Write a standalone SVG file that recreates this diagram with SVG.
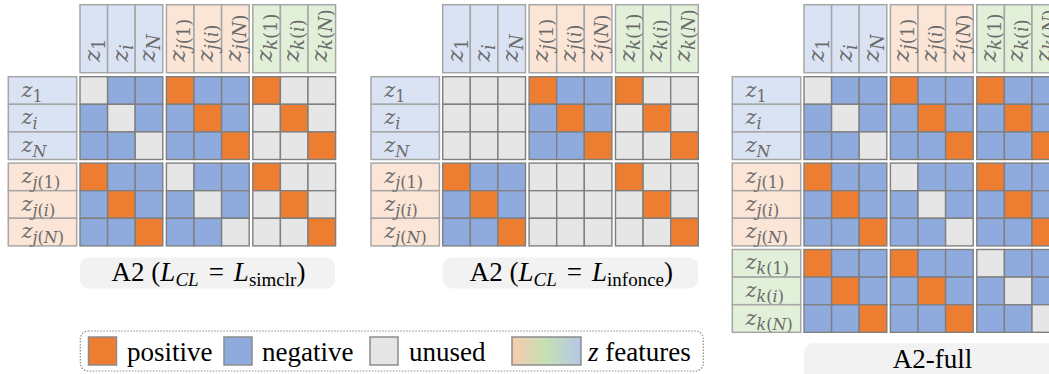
<svg xmlns="http://www.w3.org/2000/svg" xmlns:xlink="http://www.w3.org/1999/xlink" width="1049" height="374" viewBox="0 0 1049 374">
<style>
.o{fill:#ED7D31}.b{fill:#8FAADC}.g{fill:#E6E6E6}
.cell rect{stroke:#7F7F7F;stroke-width:1.4}
.hb{fill:#DAE3F3;stroke:#A6A6A6;stroke-width:1.5}
.hj{fill:#FBE5D6;stroke:#A6A6A6;stroke-width:1.5}
.hk{fill:#E2F0D9;stroke:#A6A6A6;stroke-width:1.5}
.rl{font-family:"DejaVu Serif",serif;font-style:italic;font-size:21px;fill:#6B6B6B}
.hl{font-family:"DejaVu Serif",serif;font-style:italic;font-size:23px;fill:#6B6B6B}
.rl .s{font-size:16px}.hl .s{font-size:18px}
.u{font-style:normal}
.cap{fill:#F2F2F2}
.ct{font-family:"Liberation Serif",serif;font-size:27px;fill:#000}
.ct .i{font-style:italic}
.ct .s{font-size:19px}
.lg{font-family:"Liberation Serif",serif;font-size:27px;fill:#000}
.ls{stroke:#8C8C8C;stroke-width:1.5}
</style>
<defs>
<g id="bGB" class="cell">
<rect class="g" x="0" y="0" width="27.6" height="27.6"/><rect class="b" x="27.6" y="0" width="27.6" height="27.6"/><rect class="b" x="55.2" y="0" width="27.6" height="27.6"/>
<rect class="b" x="0" y="27.6" width="27.6" height="27.6"/><rect class="g" x="27.6" y="27.6" width="27.6" height="27.6"/><rect class="b" x="55.2" y="27.6" width="27.6" height="27.6"/>
<rect class="b" x="0" y="55.2" width="27.6" height="27.6"/><rect class="b" x="27.6" y="55.2" width="27.6" height="27.6"/><rect class="g" x="55.2" y="55.2" width="27.6" height="27.6"/>
</g>
<g id="bOB" class="cell">
<rect class="o" x="0" y="0" width="27.6" height="27.6"/><rect class="b" x="27.6" y="0" width="27.6" height="27.6"/><rect class="b" x="55.2" y="0" width="27.6" height="27.6"/>
<rect class="b" x="0" y="27.6" width="27.6" height="27.6"/><rect class="o" x="27.6" y="27.6" width="27.6" height="27.6"/><rect class="b" x="55.2" y="27.6" width="27.6" height="27.6"/>
<rect class="b" x="0" y="55.2" width="27.6" height="27.6"/><rect class="b" x="27.6" y="55.2" width="27.6" height="27.6"/><rect class="o" x="55.2" y="55.2" width="27.6" height="27.6"/>
</g>
<g id="bOG" class="cell">
<rect class="o" x="0" y="0" width="27.6" height="27.6"/><rect class="g" x="27.6" y="0" width="27.6" height="27.6"/><rect class="g" x="55.2" y="0" width="27.6" height="27.6"/>
<rect class="g" x="0" y="27.6" width="27.6" height="27.6"/><rect class="o" x="27.6" y="27.6" width="27.6" height="27.6"/><rect class="g" x="55.2" y="27.6" width="27.6" height="27.6"/>
<rect class="g" x="0" y="55.2" width="27.6" height="27.6"/><rect class="g" x="27.6" y="55.2" width="27.6" height="27.6"/><rect class="o" x="55.2" y="55.2" width="27.6" height="27.6"/>
</g>
<g id="bG" class="cell">
<rect class="g" x="0" y="0" width="27.6" height="27.6"/><rect class="g" x="27.6" y="0" width="27.6" height="27.6"/><rect class="g" x="55.2" y="0" width="27.6" height="27.6"/>
<rect class="g" x="0" y="27.6" width="27.6" height="27.6"/><rect class="g" x="27.6" y="27.6" width="27.6" height="27.6"/><rect class="g" x="55.2" y="27.6" width="27.6" height="27.6"/>
<rect class="g" x="0" y="55.2" width="27.6" height="27.6"/><rect class="g" x="27.6" y="55.2" width="27.6" height="27.6"/><rect class="g" x="55.2" y="55.2" width="27.6" height="27.6"/>
</g>
<linearGradient id="zg" x1="0" y1="0" x2="1" y2="0">
<stop offset="0" stop-color="#F8CBAD"/><stop offset="0.5" stop-color="#C5E0B4"/><stop offset="1" stop-color="#B4C7E7"/>
</linearGradient>
</defs>

<!-- Matrix 1 -->
<g id="m1">
<g id="m1-head">
<rect class="hb" x="80" y="4.7" width="27.6" height="68"/><rect class="hb" x="107.6" y="4.7" width="27.6" height="68"/><rect class="hb" x="135.2" y="4.7" width="27.6" height="68"/>
<rect class="hj" x="166.4" y="4.7" width="27.6" height="68"/><rect class="hj" x="194" y="4.7" width="27.6" height="68"/><rect class="hj" x="221.6" y="4.7" width="27.6" height="68"/>
<rect class="hk" x="252.8" y="4.7" width="27.6" height="68"/><rect class="hk" x="280.4" y="4.7" width="27.6" height="68"/><rect class="hk" x="308" y="4.7" width="27.6" height="68"/>
<text class="hl" transform="translate(100,62) rotate(-90)">z<tspan class="s u" dy="5">1</tspan></text>
<text class="hl" transform="translate(127.6,62) rotate(-90)">z<tspan class="s" dy="5">i</tspan></text>
<text class="hl" transform="translate(155.2,62) rotate(-90)">z<tspan class="s" dy="5">N</tspan></text>
<text class="hl" transform="translate(185.4,62) rotate(-90)">z<tspan class="s" dy="5">j<tspan class="u">(1)</tspan></tspan></text>
<text class="hl" transform="translate(213,62) rotate(-90)">z<tspan class="s" dy="5">j<tspan class="u">(</tspan>i<tspan class="u">)</tspan></tspan></text>
<text class="hl" transform="translate(240.6,62) rotate(-90)">z<tspan class="s" dy="5">j<tspan class="u">(</tspan>N<tspan class="u">)</tspan></tspan></text>
<text class="hl" transform="translate(271.8,62) rotate(-90)">z<tspan class="s" dy="5">k<tspan class="u">(1)</tspan></tspan></text>
<text class="hl" transform="translate(299.4,62) rotate(-90)">z<tspan class="s" dy="5">k<tspan class="u">(</tspan>i<tspan class="u">)</tspan></tspan></text>
<text class="hl" transform="translate(327,62) rotate(-90)">z<tspan class="s" dy="5">k<tspan class="u">(</tspan>N<tspan class="u">)</tspan></tspan></text>
</g>
<g id="m1-rows">
<rect class="hb" x="8.3" y="76.7" width="68.4" height="27.6"/><rect class="hb" x="8.3" y="104.3" width="68.4" height="27.6"/><rect class="hb" x="8.3" y="131.9" width="68.4" height="27.6"/>
<rect class="hj" x="8.3" y="163.1" width="68.4" height="27.6"/><rect class="hj" x="8.3" y="190.7" width="68.4" height="27.6"/><rect class="hj" x="8.3" y="218.3" width="68.4" height="27.6"/>
<text class="rl" x="21.5" y="96.5">z<tspan class="s u" dy="5">1</tspan></text>
<text class="rl" x="21.5" y="124.1">z<tspan class="s" dy="5">i</tspan></text>
<text class="rl" x="21.5" y="151.7">z<tspan class="s" dy="5">N</tspan></text>
<text class="rl" x="21.5" y="182.9">z<tspan class="s" dy="5">j<tspan class="u">(1)</tspan></tspan></text>
<text class="rl" x="21.5" y="210.5">z<tspan class="s" dy="5">j<tspan class="u">(</tspan>i<tspan class="u">)</tspan></tspan></text>
<text class="rl" x="21.5" y="238.1">z<tspan class="s" dy="5">j<tspan class="u">(</tspan>N<tspan class="u">)</tspan></tspan></text>
</g>
<g id="m1-cells">
<use xlink:href="#bGB" x="80" y="76.7"/><use xlink:href="#bOB" x="166.4" y="76.7"/><use xlink:href="#bOG" x="252.8" y="76.7"/>
<use xlink:href="#bOB" x="80" y="163.1"/><use xlink:href="#bGB" x="166.4" y="163.1"/><use xlink:href="#bOG" x="252.8" y="163.1"/>
</g>
<g id="m1-caption">
<rect class="cap" x="80" y="257.5" width="255" height="31" rx="9"/>
<text class="ct" x="208.5" y="281" text-anchor="middle">A2 (<tspan class="i">L</tspan><tspan class="i s" dy="5">CL</tspan><tspan dy="-5" dx="10">=</tspan><tspan class="i" dx="10">L</tspan><tspan class="s" dy="5">simclr</tspan><tspan dy="-5">)</tspan></text>
</g>
</g>

<!-- Matrix 2 -->
<g id="m2">
<g id="m2-head">
<rect class="hb" x="442.7" y="4.7" width="27.6" height="68"/><rect class="hb" x="470.3" y="4.7" width="27.6" height="68"/><rect class="hb" x="497.9" y="4.7" width="27.6" height="68"/>
<rect class="hj" x="529.1" y="4.7" width="27.6" height="68"/><rect class="hj" x="556.7" y="4.7" width="27.6" height="68"/><rect class="hj" x="584.3" y="4.7" width="27.6" height="68"/>
<rect class="hk" x="615.5" y="4.7" width="27.6" height="68"/><rect class="hk" x="643.1" y="4.7" width="27.6" height="68"/><rect class="hk" x="670.7" y="4.7" width="27.6" height="68"/>
<text class="hl" transform="translate(462.7,62) rotate(-90)">z<tspan class="s u" dy="5">1</tspan></text>
<text class="hl" transform="translate(490.3,62) rotate(-90)">z<tspan class="s" dy="5">i</tspan></text>
<text class="hl" transform="translate(517.9,62) rotate(-90)">z<tspan class="s" dy="5">N</tspan></text>
<text class="hl" transform="translate(548.1,62) rotate(-90)">z<tspan class="s" dy="5">j<tspan class="u">(1)</tspan></tspan></text>
<text class="hl" transform="translate(575.7,62) rotate(-90)">z<tspan class="s" dy="5">j<tspan class="u">(</tspan>i<tspan class="u">)</tspan></tspan></text>
<text class="hl" transform="translate(603.3,62) rotate(-90)">z<tspan class="s" dy="5">j<tspan class="u">(</tspan>N<tspan class="u">)</tspan></tspan></text>
<text class="hl" transform="translate(634.5,62) rotate(-90)">z<tspan class="s" dy="5">k<tspan class="u">(1)</tspan></tspan></text>
<text class="hl" transform="translate(662.1,62) rotate(-90)">z<tspan class="s" dy="5">k<tspan class="u">(</tspan>i<tspan class="u">)</tspan></tspan></text>
<text class="hl" transform="translate(689.7,62) rotate(-90)">z<tspan class="s" dy="5">k<tspan class="u">(</tspan>N<tspan class="u">)</tspan></tspan></text>
</g>
<g id="m2-rows">
<rect class="hb" x="371" y="76.7" width="68.4" height="27.6"/><rect class="hb" x="371" y="104.3" width="68.4" height="27.6"/><rect class="hb" x="371" y="131.9" width="68.4" height="27.6"/>
<rect class="hj" x="371" y="163.1" width="68.4" height="27.6"/><rect class="hj" x="371" y="190.7" width="68.4" height="27.6"/><rect class="hj" x="371" y="218.3" width="68.4" height="27.6"/>
<text class="rl" x="384.2" y="96.5">z<tspan class="s u" dy="5">1</tspan></text>
<text class="rl" x="384.2" y="124.1">z<tspan class="s" dy="5">i</tspan></text>
<text class="rl" x="384.2" y="151.7">z<tspan class="s" dy="5">N</tspan></text>
<text class="rl" x="384.2" y="182.9">z<tspan class="s" dy="5">j<tspan class="u">(1)</tspan></tspan></text>
<text class="rl" x="384.2" y="210.5">z<tspan class="s" dy="5">j<tspan class="u">(</tspan>i<tspan class="u">)</tspan></tspan></text>
<text class="rl" x="384.2" y="238.1">z<tspan class="s" dy="5">j<tspan class="u">(</tspan>N<tspan class="u">)</tspan></tspan></text>
</g>
<g id="m2-cells">
<use xlink:href="#bG" x="442.7" y="76.7"/><use xlink:href="#bOB" x="529.1" y="76.7"/><use xlink:href="#bOG" x="615.5" y="76.7"/>
<use xlink:href="#bOB" x="442.7" y="163.1"/><use xlink:href="#bG" x="529.1" y="163.1"/><use xlink:href="#bOG" x="615.5" y="163.1"/>
</g>
<g id="m2-caption">
<rect class="cap" x="442.7" y="257.5" width="255.5" height="31" rx="9"/>
<text class="ct" x="571.4" y="281" text-anchor="middle">A2 (<tspan class="i">L</tspan><tspan class="i s" dy="5">CL</tspan><tspan dy="-5" dx="10">=</tspan><tspan class="i" dx="10">L</tspan><tspan class="s" dy="5">infonce</tspan><tspan dy="-5">)</tspan></text>
</g>
</g>

<!-- Matrix 3 -->
<g id="m3">
<g id="m3-head">
<rect class="hb" x="804" y="4.7" width="27.6" height="68"/><rect class="hb" x="831.6" y="4.7" width="27.6" height="68"/><rect class="hb" x="859.2" y="4.7" width="27.6" height="68"/>
<rect class="hj" x="890.4" y="4.7" width="27.6" height="68"/><rect class="hj" x="918" y="4.7" width="27.6" height="68"/><rect class="hj" x="945.6" y="4.7" width="27.6" height="68"/>
<rect class="hk" x="976.8" y="4.7" width="27.6" height="68"/><rect class="hk" x="1004.4" y="4.7" width="27.6" height="68"/><rect class="hk" x="1032" y="4.7" width="27.6" height="68"/>
<text class="hl" transform="translate(824,62) rotate(-90)">z<tspan class="s u" dy="5">1</tspan></text>
<text class="hl" transform="translate(851.6,62) rotate(-90)">z<tspan class="s" dy="5">i</tspan></text>
<text class="hl" transform="translate(879.2,62) rotate(-90)">z<tspan class="s" dy="5">N</tspan></text>
<text class="hl" transform="translate(909.4,62) rotate(-90)">z<tspan class="s" dy="5">j<tspan class="u">(1)</tspan></tspan></text>
<text class="hl" transform="translate(937,62) rotate(-90)">z<tspan class="s" dy="5">j<tspan class="u">(</tspan>i<tspan class="u">)</tspan></tspan></text>
<text class="hl" transform="translate(964.6,62) rotate(-90)">z<tspan class="s" dy="5">j<tspan class="u">(</tspan>N<tspan class="u">)</tspan></tspan></text>
<text class="hl" transform="translate(995.8,62) rotate(-90)">z<tspan class="s" dy="5">k<tspan class="u">(1)</tspan></tspan></text>
<text class="hl" transform="translate(1023.4,62) rotate(-90)">z<tspan class="s" dy="5">k<tspan class="u">(</tspan>i<tspan class="u">)</tspan></tspan></text>
<text class="hl" transform="translate(1051,62) rotate(-90)">z<tspan class="s" dy="5">k<tspan class="u">(</tspan>N<tspan class="u">)</tspan></tspan></text>
</g>
<g id="m3-rows">
<rect class="hb" x="732.3" y="76.7" width="68.4" height="27.6"/><rect class="hb" x="732.3" y="104.3" width="68.4" height="27.6"/><rect class="hb" x="732.3" y="131.9" width="68.4" height="27.6"/>
<rect class="hj" x="732.3" y="163.1" width="68.4" height="27.6"/><rect class="hj" x="732.3" y="190.7" width="68.4" height="27.6"/><rect class="hj" x="732.3" y="218.3" width="68.4" height="27.6"/>
<rect class="hk" x="732.3" y="249.5" width="68.4" height="27.6"/><rect class="hk" x="732.3" y="277.1" width="68.4" height="27.6"/><rect class="hk" x="732.3" y="304.7" width="68.4" height="27.6"/>
<text class="rl" x="745.5" y="96.5">z<tspan class="s u" dy="5">1</tspan></text>
<text class="rl" x="745.5" y="124.1">z<tspan class="s" dy="5">i</tspan></text>
<text class="rl" x="745.5" y="151.7">z<tspan class="s" dy="5">N</tspan></text>
<text class="rl" x="745.5" y="182.9">z<tspan class="s" dy="5">j<tspan class="u">(1)</tspan></tspan></text>
<text class="rl" x="745.5" y="210.5">z<tspan class="s" dy="5">j<tspan class="u">(</tspan>i<tspan class="u">)</tspan></tspan></text>
<text class="rl" x="745.5" y="238.1">z<tspan class="s" dy="5">j<tspan class="u">(</tspan>N<tspan class="u">)</tspan></tspan></text>
<text class="rl" x="745.5" y="269.3">z<tspan class="s" dy="5">k<tspan class="u">(1)</tspan></tspan></text>
<text class="rl" x="745.5" y="296.9">z<tspan class="s" dy="5">k<tspan class="u">(</tspan>i<tspan class="u">)</tspan></tspan></text>
<text class="rl" x="745.5" y="324.5">z<tspan class="s" dy="5">k<tspan class="u">(</tspan>N<tspan class="u">)</tspan></tspan></text>
</g>
<g id="m3-cells">
<use xlink:href="#bGB" x="804" y="76.7"/><use xlink:href="#bOB" x="890.4" y="76.7"/><use xlink:href="#bOB" x="976.8" y="76.7"/>
<use xlink:href="#bOB" x="804" y="163.1"/><use xlink:href="#bGB" x="890.4" y="163.1"/><use xlink:href="#bOB" x="976.8" y="163.1"/>
<use xlink:href="#bOB" x="804" y="249.5"/><use xlink:href="#bOB" x="890.4" y="249.5"/><use xlink:href="#bGB" x="976.8" y="249.5"/>
</g>
<g id="m3-caption">
<rect class="cap" x="804" y="343.3" width="258" height="40" rx="9"/>
<text class="ct" x="932.5" y="368" text-anchor="middle">A2-full</text>
</g>
</g>

<!-- Legend -->
<g id="legend">
<rect x="80.3" y="331" width="623" height="40" rx="8" fill="none" stroke="#8C8C8C" stroke-width="1.2" stroke-dasharray="1.5 1.5"/>
<rect class="o ls" x="88.5" y="337" width="28" height="28"/>
<text class="lg" x="127" y="361">positive</text>
<rect class="b ls" x="224" y="337" width="28" height="28"/>
<text class="lg" x="262" y="361">negative</text>
<rect class="g ls" x="370" y="337" width="28" height="28"/>
<text class="lg" x="409" y="361">unused</text>
<rect x="512" y="337" width="69" height="28" fill="url(#zg)" class="ls"/>
<text class="lg" x="588" y="361"><tspan font-style="italic">z</tspan> features</text>
</g>
</svg>
